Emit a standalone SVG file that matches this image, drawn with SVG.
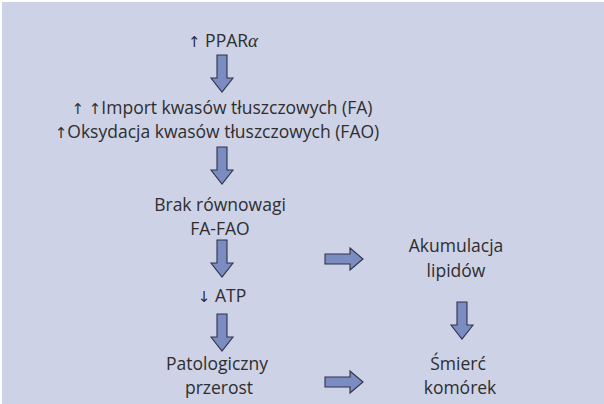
<svg xmlns="http://www.w3.org/2000/svg" width="604" height="404" viewBox="0 0 604 404">
<defs>
<style>
.t{font-family:"Open Sans","Noto Sans","Liberation Sans",sans-serif;font-size:17.5px;fill:#2e2e2e;text-anchor:middle}
.ar{font-family:"DejaVu Sans",sans-serif;font-size:15px;fill:#2e2e2e}
.a{fill:#7a8cc2;stroke:#2f3348;stroke-width:1.1;stroke-linejoin:miter}
</style>
<path id="down" d="M-5,0 H5 V23 H11 L0,37 L-11,23 H-5 Z"/>
<path id="right" d="M0,-5 H25 V-11 L38,0 L25,11 V5 H0 Z"/>
</defs>
<rect x="0" y="0" width="604" height="404" fill="#ffffff"/>
<rect x="2" y="2" width="602" height="402" fill="#cdd2e6"/>
<g id="connectors">
<use href="#down" class="a" x="222" y="55"/>
<use href="#down" class="a" x="222" y="147"/>
<use href="#down" class="a" x="222" y="240"/>
<use href="#down" class="a" x="222" y="314"/>
<use href="#down" class="a" x="462" y="302"/>
<use href="#right" class="a" x="325" y="259"/>
<use href="#right" class="a" x="325" y="382"/>
</g>
<g id="n1"><text class="t" x="223" y="47"><tspan class="ar">↑</tspan> PPAR<tspan font-family="Liberation Serif,serif" font-style="italic" font-size="19">α</tspan></text></g>
<g id="n2"><text class="t" x="222" y="114"><tspan class="ar">↑ ↑</tspan>Import kwasów tłuszczowych (FA)</text><text class="t" x="217" y="138"><tspan class="ar">↑</tspan>Oksydacja kwasów tłuszczowych (FAO)</text></g>
<g id="n3"><text class="t" x="220" y="211">Brak równowagi</text><text class="t" x="220" y="235">FA-FAO</text></g>
<g id="n4"><text class="t" x="222" y="302"><tspan class="ar">↓</tspan> ATP</text></g>
<g id="n5"><text class="t" x="217" y="370">Patologiczny</text><text class="t" x="219" y="394">przerost</text></g>
<g id="n6"><text class="t" x="456" y="252">Akumulacja</text><text class="t" x="456" y="277">lipidów</text></g>
<g id="n7"><text class="t" x="458" y="370">Śmierć</text><text class="t" x="460" y="394">komórek</text></g>
</svg>
